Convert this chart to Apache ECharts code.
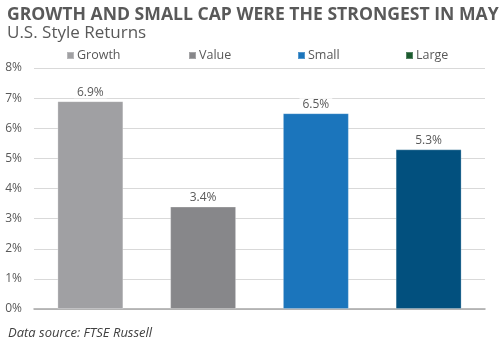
<!DOCTYPE html>
<html><head><meta charset="utf-8">
<script src="https://cdn.jsdelivr.net/npm/echarts@6/dist/echarts.min.js"></script>
<style>html,body{margin:0;padding:0;background:#fff}#c{width:500px;height:342px}</style>
</head><body><div id="c"></div>
<script>
var categories = ['Growth', 'Value', 'Small', 'Large'];
var values = [6.9, 3.4, 6.5, 5.3];
var barColors = ['#a0a0a3', '#87878a', '#1b75bc', '#02507e'];
var legendColors = ['#a0a0a3', '#87878a', '#1b75bc', '#1b5a2e'];
var yTicks = [0, 1, 2, 3, 4, 5, 6, 7, 8];
var legendLeft = [61, 183, 292, 400];

var chart = echarts.init(document.getElementById('c'));
var series = categories.map(function (name, i) {
  return {
    name: name, type: 'bar', stack: 'all', barWidth: '58.5%',
    itemStyle: { color: barColors[i], borderColor: 'rgba(255,255,255,0.25)', borderWidth: 1 },
    label: { show: true, position: 'top', distance: 3, formatter: function (p) { return p.value.toFixed(1) + '%'; },
      color: '#595959', fontSize: 12, fontFamily: 'Open Sans', backgroundColor: '#fff', padding: [0, 3] },
    data: categories.map(function (c, j) { return j === i ? values[i] : null; })
  };
});
chart.setOption({
  animation: false,
  title: [
    { text: 'GROWTH AND SMALL CAP WERE THE STRONGEST IN MAY', left: 2, top: 1,
      textStyle: { fontFamily: 'Open Sans', fontWeight: 'bold', fontSize: 17.6, color: '#595959' } },
    { text: 'U.S. Style Returns', left: 2, top: 20,
      textStyle: { fontFamily: 'Open Sans', fontWeight: 'normal', fontSize: 17, color: '#595959' } },
    { text: 'Data source: FTSE Russell', left: 3, top: 322,
      textStyle: { fontFamily: 'Open Sans', fontStyle: 'italic', fontWeight: 'normal', fontSize: 13, color: '#404040' } }
  ],
  legend: categories.map(function (name, i) {
    return { left: legendLeft[i], top: 44, itemWidth: 7, itemHeight: 7, itemGap: 4,
      icon: 'rect', selectedMode: false,
      textStyle: { color: '#595959', fontSize: 12.5, fontFamily: 'Open Sans', padding: [0, 0, 0, -2] },
      data: [{ name: name, itemStyle: { color: legendColors[i] } }] };
  }),
  grid: { left: 34, right: 15, top: 68, bottom: 33 },
  xAxis: { type: 'category', data: categories,
    axisLine: { lineStyle: { color: '#a6a6a6', width: 1.5 } }, axisTick: { show: false }, axisLabel: { show: false } },
  yAxis: { type: 'value', min: 0, max: 8, interval: 1,
    axisLabel: { formatter: function (v) { return v + '%'; }, color: '#595959', fontSize: 12, fontFamily: 'Open Sans', margin: 12 },
    splitLine: { lineStyle: { color: '#d9d9d9' } }, axisLine: { show: false }, axisTick: { show: false } },
  series: series
});
</script></body></html>
